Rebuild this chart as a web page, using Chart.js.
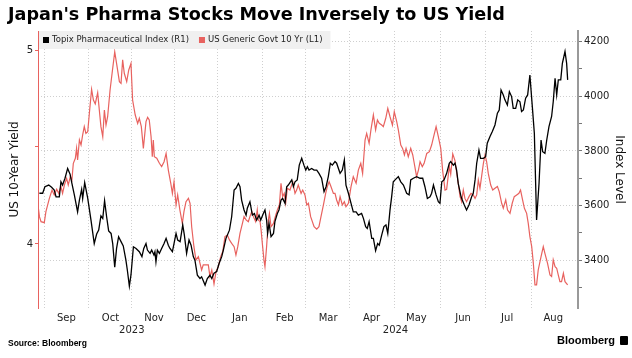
<!DOCTYPE html>
<html>
<head>
<meta charset="utf-8">
<script src="https://cdn.jsdelivr.net/npm/chart.js@4.4.1/dist/chart.umd.min.js"></script>
<style>
  body { margin: 0; background: #fff; }
  #wrap { position: relative; width: 632px; height: 358px; overflow: hidden; }
  #title { position: absolute; left: 8px; top: 4px; font: bold 17.6px "DejaVu Sans", sans-serif; color: #000; white-space: nowrap; }
  #source { position: absolute; left: 8px; top: 338px; font: bold 8.5px "Liberation Sans", sans-serif; color: #000; }
  #brand { position: absolute; left: 557px; top: 334px; font: bold 11px "Liberation Sans", sans-serif; color: #000; white-space: nowrap; }
  #brand i { display: inline-block; width: 8px; height: 9px; background: #000; border-radius: 1px; margin-left: 5px; vertical-align: -1px; }
</style>
</head>
<body>
<div id="wrap">
  <canvas id="chart" width="632" height="358"></canvas>
  <div id="title">Japan's Pharma Stocks Move Inversely to US Yield</div>
  <div id="source">Source: Bloomberg</div>
  <div id="brand">Bloomberg<i></i></div>
</div>
<script>
// x values are trading-day index from the chart's left edge (late Aug 2023)
const monthLabels = ['Sep', 'Oct', 'Nov', 'Dec', 'Jan', 'Feb', 'Mar', 'Apr', 'May', 'Jun', 'Jul', 'Aug'];
const monthYears = [2023, 2023, 2023, 2023, 2024, 2024, 2024, 2024, 2024, 2024, 2024, 2024];
const monthStarts = [3.1, 24.8, 46.2, 67.1, 88.5, 110.6, 132, 153.4, 175.5, 198.5, 220.2, 242.9];
const dayMax = 266;

const yieldTicks = [4, 5];
const indexTicks = [3400, 3600, 3800, 4000, 4200];

// Topix Pharmaceutical Index (right axis)
const topix = [
  [0.7,3645],[2.3,3645],[3.4,3669],[5.3,3675],[6.7,3667],[8.0,3657],[8.9,3632],[10.5,3632],[11.3,3687],[12.1,3675],
  [13.3,3700],[14.6,3736],[15.8,3715],[16.7,3681],[17.9,3639],[19.5,3577],[20.4,3620],[21.5,3659],[22.0,3626],[23.0,3684],
  [24.5,3626],[26.1,3547],[27.7,3461],[28.9,3496],[29.9,3510],[31.0,3562],[31.9,3553],[32.8,3618],[33.8,3559],[34.8,3507],
  [36.0,3498],[36.8,3461],[37.8,3374],[38.7,3443],[39.7,3486],[40.9,3468],[42.0,3452],[43.3,3400],[44.0,3364],[45.0,3305],
  [45.8,3346],[47.0,3449],[48.3,3443],[49.9,3431],[51.2,3413],[52.1,3443],[53.2,3461],[53.9,3437],[55.2,3425],[56.0,3437],
  [57.1,3419],[57.6,3431],[58.1,3394],[58.8,3437],[59.8,3425],[60.9,3443],[62.1,3461],[63.1,3480],[64.2,3455],[65.0,3443],
  [66.2,3431],[67.0,3461],[68.0,3498],[68.8,3474],[70.0,3468],[71.3,3529],[72.1,3492],[73.2,3425],[74.4,3474],[75.4,3455],
  [76.5,3413],[77.3,3400],[78.5,3345],[79.8,3333],[80.6,3339],[82.3,3309],[83.4,3333],[84.7,3345],[85.6,3333],[86.7,3352],
  [88.0,3358],[89.2,3388],[90.5,3413],[91.3,3437],[92.6,3480],[94.3,3510],[95.4,3559],[96.6,3657],[97.5,3663],[98.7,3681],
  [99.5,3669],[100.3,3620],[101.5,3584],[102.5,3565],[103.1,3590],[104.4,3614],[105.6,3565],[106.6,3571],[107.7,3547],[108.9,3565],
  [109.7,3547],[111.0,3571],[111.8,3584],[112.6,3547],[113.1,3498],[113.8,3535],[114.8,3486],[116.0,3498],[116.7,3541],[117.9,3571],
  [118.7,3584],[119.7,3620],[120.5,3626],[121.7,3608],[122.5,3669],[123.3,3675],[125.0,3694],[125.8,3669],[126.6,3687],[127.7,3694],
  [128.7,3748],[129.9,3773],[131.0,3748],[131.9,3730],[132.7,3742],[133.5,3730],[134.8,3736],[136.0,3730],[137.3,3730],[138.4,3718],
  [139.7,3700],[140.9,3651],[141.9,3669],[143.0,3706],[144.0,3755],[145.0,3748],[146.3,3761],[147.1,3755],[148.8,3718],[149.9,3730],
  [150.9,3767],[151.7,3675],[152.9,3645],[154.2,3608],[155.3,3577],[156.7,3577],[157.8,3565],[159.4,3571],[160.3,3553],[161.4,3523],
  [162.2,3516],[163.1,3541],[164.4,3480],[165.2,3480],[166.3,3435],[167.3,3461],[168.1,3455],[169.3,3492],[170.4,3523],[171.4,3529],
  [172.3,3498],[173.4,3584],[174.2,3632],[175.0,3687],[175.9,3694],[177.5,3706],[178.7,3687],[180.0,3675],[181.6,3645],[182.8,3639],
  [183.6,3694],[184.9,3700],[186.5,3706],[188.2,3700],[189.5,3700],[190.6,3669],[191.8,3626],[193.1,3632],[193.9,3645],[194.8,3675],
  [196.1,3639],[197.2,3614],[198.0,3608],[198.9,3687],[200.0,3694],[201.3,3718],[202.6,3755],[203.3,3761],[204.6,3748],[205.4,3755],
  [206.2,3730],[207.0,3681],[208.4,3632],[209.0,3620],[210.0,3602],[211.1,3584],[212.3,3602],[213.6,3632],[214.4,3645],[215.3,3694],
  [216.1,3755],[217.2,3803],[218.0,3773],[219.4,3773],[220.5,3779],[221.3,3828],[222.6,3852],[223.8,3871],[225.1,3895],[226.3,3938],
  [227.2,3950],[228.1,4023],[229.2,4005],[230.0,3987],[231.2,3968],[232.2,4017],[233.3,3999],[234.1,3956],[235.3,3956],[236.3,3987],
  [237.4,3980],[238.2,3944],[239.1,3950],[240.2,3993],[241.2,4005],[242.3,4078],[243.5,3962],[244.5,3864],[245.6,3547],[246.8,3681],
  [247.8,3840],[248.6,3797],[249.7,3791],[250.6,3840],[251.7,3889],[253.0,3926],[253.8,3980],[254.7,4066],[255.5,4005],[256.3,4060],
  [257.5,4060],[258.3,4121],[259.6,4164],[260.4,4121],[260.9,4060]
];

// US Generic Govt 10 Yr yield, % (left axis)
const usYield = [
  [0,4.201],[0.7,4.141],[1.5,4.115],[3.1,4.110],[3.9,4.167],[5.6,4.235],[6.9,4.278],[8.0,4.253],[9.2,4.282],[10.2,4.261],
  [11.3,4.296],[12.1,4.261],[13.0,4.304],[14.1,4.338],[14.9,4.304],[15.9,4.347],[16.7,4.330],[17.4,4.416],[18.4,4.442],[19.0,4.493],
  [19.5,4.433],[20.4,4.536],[21.2,4.510],[22.0,4.562],[22.8,4.605],[23.6,4.570],[24.5,4.579],[25.3,4.674],[26.4,4.797],[27.3,4.742],
  [28.2,4.722],[29.4,4.780],[30.2,4.691],[31.0,4.605],[31.9,4.553],[32.7,4.691],[33.5,4.613],[34.3,4.656],[35.5,4.794],[36.5,4.880],
  [37.8,4.991],[38.7,4.931],[40.1,4.837],[40.9,4.828],[41.7,4.949],[42.5,4.880],[43.7,4.837],[44.7,4.897],[45.8,4.931],[46.6,4.742],
  [47.9,4.665],[49.1,4.622],[49.9,4.648],[50.9,4.605],[51.9,4.493],[53.2,4.631],[54.0,4.653],[54.8,4.639],[55.7,4.553],[56.3,4.450],
  [56.8,4.536],[57.3,4.450],[58.5,4.442],[59.8,4.416],[60.9,4.399],[62.1,4.424],[63.1,4.467],[64.2,4.381],[65.4,4.313],[66.2,4.261],
  [67.0,4.321],[68.0,4.201],[68.8,4.253],[69.9,4.175],[71.1,4.106],[71.9,4.167],[72.9,4.218],[74.1,4.235],[74.9,4.210],[75.7,4.089],
  [76.8,3.986],[77.8,3.918],[79.0,3.935],[79.8,3.900],[80.6,3.866],[81.4,3.892],[82.8,3.892],[83.9,3.892],[84.7,3.832],[85.6,3.866],
  [86.7,3.794],[87.7,3.857],[88.8,3.883],[90.0,3.935],[91.0,3.961],[92.1,4.038],[93.3,4.046],[94.3,4.021],[95.4,4.003],[96.6,3.986],
  [97.5,3.943],[98.4,3.986],[99.5,4.055],[100.7,4.106],[101.5,4.141],[102.5,4.124],[103.6,4.115],[104.4,4.141],[105.3,4.167],[106.1,4.141],
  [107.2,4.115],[108.0,4.175],[108.5,4.124],[109.4,4.115],[109.9,4.072],[110.5,4.003],[111.3,3.918],[111.8,3.883],[112.6,3.986],[113.5,4.124],
  [114.0,4.158],[114.8,4.089],[116.0,4.106],[117.1,4.149],[117.9,4.175],[118.9,4.201],[119.7,4.313],[120.5,4.244],[121.3,4.261],[122.0,4.210],
  [122.8,4.287],[124.1,4.278],[125.5,4.321],[126.6,4.261],[127.4,4.278],[128.2,4.304],[129.6,4.261],[130.4,4.278],[131.5,4.253],[132.4,4.201],
  [133.2,4.210],[134.3,4.141],[136.0,4.089],[137.3,4.076],[138.4,4.089],[139.4,4.141],[140.6,4.201],[141.7,4.261],[142.5,4.296],[143.4,4.321],
  [144.3,4.296],[145.5,4.261],[146.3,4.261],[147.1,4.227],[148.0,4.201],[148.8,4.244],[149.9,4.201],[150.9,4.218],[151.7,4.192],[152.9,4.210],
  [154.2,4.296],[155.3,4.347],[156.7,4.313],[157.8,4.381],[159.0,4.416],[159.9,4.364],[161.1,4.536],[161.9,4.570],[163.1,4.519],[164.0,4.588],
  [165.2,4.665],[166.3,4.588],[167.2,4.639],[168.1,4.622],[169.3,4.613],[170.1,4.605],[171.3,4.648],[172.3,4.699],[173.4,4.656],[174.6,4.613],
  [175.5,4.682],[176.7,4.631],[177.5,4.588],[178.7,4.510],[179.6,4.493],[180.5,4.459],[181.3,4.493],[182.4,4.450],[183.6,4.493],[184.6,4.459],
  [185.2,4.424],[186.5,4.347],[187.4,4.381],[188.2,4.424],[189.3,4.399],[190.2,4.416],[191.5,4.467],[192.8,4.476],[193.9,4.510],[195.1,4.562],
  [196.1,4.605],[197.2,4.553],[198.4,4.493],[199.3,4.381],[200.5,4.278],[201.3,4.282],[202.6,4.400],[203.3,4.360],[204.3,4.465],[205.4,4.430],
  [206.2,4.370],[207.0,4.313],[207.9,4.244],[208.7,4.218],[209.5,4.278],[210.3,4.235],[211.1,4.218],[212.3,4.244],[213.3,4.261],[214.4,4.253],
  [215.3,4.235],[216.1,4.253],[216.9,4.330],[217.7,4.287],[218.5,4.347],[219.4,4.416],[220.2,4.459],[221.0,4.424],[221.8,4.364],[223.0,4.304],
  [224.0,4.278],[225.1,4.287],[226.3,4.296],[227.2,4.270],[228.4,4.210],[229.2,4.184],[230.4,4.227],[231.3,4.175],[232.5,4.158],[233.6,4.210],
  [234.6,4.244],[235.8,4.253],[236.9,4.261],[237.7,4.278],[238.7,4.227],[239.6,4.184],[240.7,4.158],[241.5,4.106],[242.3,4.038],[243.2,3.986],
  [244.0,3.900],[244.8,3.789],[245.6,3.789],[246.4,3.866],[247.8,3.935],[248.9,3.986],[249.7,3.952],[251.0,3.900],[252.2,3.840],[253.0,3.832],
  [253.8,3.918],[254.7,3.883],[255.5,3.875],[256.3,3.840],[257.1,3.806],[257.9,3.806],[258.8,3.849],[259.6,3.806],[260.9,3.789]
];

const RED = '#e8625f';
const GRID = '#cfcfcf';
const FONT = '"DejaVu Sans", sans-serif';

// half a month in index units, used to centre the month and year labels
const halfMonth = (monthStarts[monthStarts.length - 1] - monthStarts[0]) / (monthStarts.length - 1) / 2;

function yearCentres() {
    const out = [];
    [...new Set(monthYears)].forEach(yr => {
        const starts = monthStarts.filter((_, i) => monthYears[i] === yr);
        const mean = starts.reduce((a, b) => a + b, 0) / starts.length;
        out.push({ value: mean + halfMonth, label: String(yr) });
    });
    return out;
}

const legendItems = [
    { label: 'Topix Pharmaceutical Index (R1)', color: '#000' },
    { label: 'US Generic Govt 10 Yr (L1)', color: RED }
];

const insideLegend = {
    id: 'insideLegend',
    afterDatasetsDraw(chart) {
        const { ctx, chartArea } = chart;
        ctx.save();
        ctx.font = '8.5px ' + FONT;
        let x = chartArea.left + 5;
        const y = chartArea.top + 9;
        let w = 5;
        legendItems.forEach(it => { w += 9 + ctx.measureText(it.label).width + 10; });
        ctx.fillStyle = '#f0f0f0';
        ctx.fillRect(chartArea.left + 1, chartArea.top, w - 3, 18);
        ctx.textBaseline = 'middle';
        legendItems.forEach(it => {
            ctx.fillStyle = it.color;
            ctx.fillRect(x, y - 3, 6, 6);
            ctx.fillStyle = '#222';
            ctx.fillText(it.label, x + 9, y);
            x += 9 + ctx.measureText(it.label).width + 10;
        });
        ctx.restore();
    }
};

const chart = new Chart(document.getElementById('chart'), {
    type: 'line',
    data: {
        datasets: [
            {
                label: legendItems[0].label,
                data: topix.map(([x, y]) => ({ x, y })),
                yAxisID: 'yIndex',
                borderColor: '#000',
                borderWidth: 1.3,
                pointRadius: 0,
                tension: 0
            },
            {
                label: legendItems[1].label,
                data: usYield.map(([x, y]) => ({ x, y })),
                yAxisID: 'yYield',
                borderColor: RED,
                borderWidth: 1.2,
                pointRadius: 0,
                tension: 0
            }
        ]
    },
    options: {
        responsive: false,
        animation: false,
        devicePixelRatio: 1,
        layout: { padding: { top: 31, left: 0, right: 0, bottom: 0 } },
        plugins: {
            legend: { display: false },
            tooltip: { enabled: false }
        },
        scales: {
            x: {
                type: 'linear',
                position: 'bottom',
                min: 0,
                max: dayMax,
                afterBuildTicks: s => { s.ticks = monthStarts.map(v => ({ value: v })); },
                afterFit: s => { s.height = 16; },
                grid: { color: GRID, drawTicks: false },
                border: { display: false, dash: [1, 2] },
                ticks: {
                    autoSkip: false,
                    maxRotation: 0,
                    padding: 4,
                    labelOffset: halfMonth * 540 / dayMax,
                    color: '#222',
                    font: { family: FONT, size: 10 },
                    callback: (v, i) => monthLabels[i]
                }
            },
            xYear: {
                type: 'linear',
                position: 'bottom',
                min: 0,
                max: dayMax,
                afterBuildTicks: s => { s.ticks = yearCentres().map(t => ({ value: t.value })); },
                afterFit: s => { s.height = 34; },
                grid: { display: false, drawTicks: false },
                border: { display: false },
                ticks: {
                    autoSkip: false,
                    maxRotation: 0,
                    padding: 0,
                    color: '#222',
                    font: { family: FONT, size: 10 },
                    callback: (v, i) => yearCentres()[i].label
                }
            },
            yYield: {
                position: 'left',
                min: 3.67,
                max: 5.098,
                afterFit: s => { s.width = 38; },
                grid: { drawOnChartArea: false, color: RED, tickLength: 3 },
                border: { color: RED, width: 1 },
                ticks: {
                    stepSize: 0.5,
                    includeBounds: false,
                    padding: 2,
                    color: '#222',
                    font: { family: FONT, size: 10 },
                    callback: v => yieldTicks.includes(v) ? v : ''
                },
                title: {
                    display: true,
                    text: 'US 10-Year Yield',
                    color: '#111',
                    font: { family: FONT, size: 12 },
                    padding: { top: 8, bottom: 0 }
                }
            },
            yIndex: {
                position: 'right',
                min: 3225,
                max: 4239,
                afterFit: s => { s.width = 54; },
                grid: {
                    color: c => (c.tick && indexTicks.includes(c.tick.value)) ? GRID : 'rgba(0,0,0,0)',
                    tickColor: '#777',
                    tickLength: 4
                },
                border: { color: '#999', width: 2, dash: [1, 2] },
                ticks: {
                    stepSize: 100,
                    includeBounds: false,
                    padding: 2,
                    color: '#222',
                    font: { family: FONT, size: 10 },
                    callback: v => indexTicks.includes(v) ? v : ''
                },
                title: {
                    display: true,
                    text: 'Index Level',
                    color: '#111',
                    font: { family: FONT, size: 12 },
                    padding: { top: 6, bottom: 0 }
                }
            }
        }
    },
    plugins: [insideLegend]
});
</script>
</body>
</html>
